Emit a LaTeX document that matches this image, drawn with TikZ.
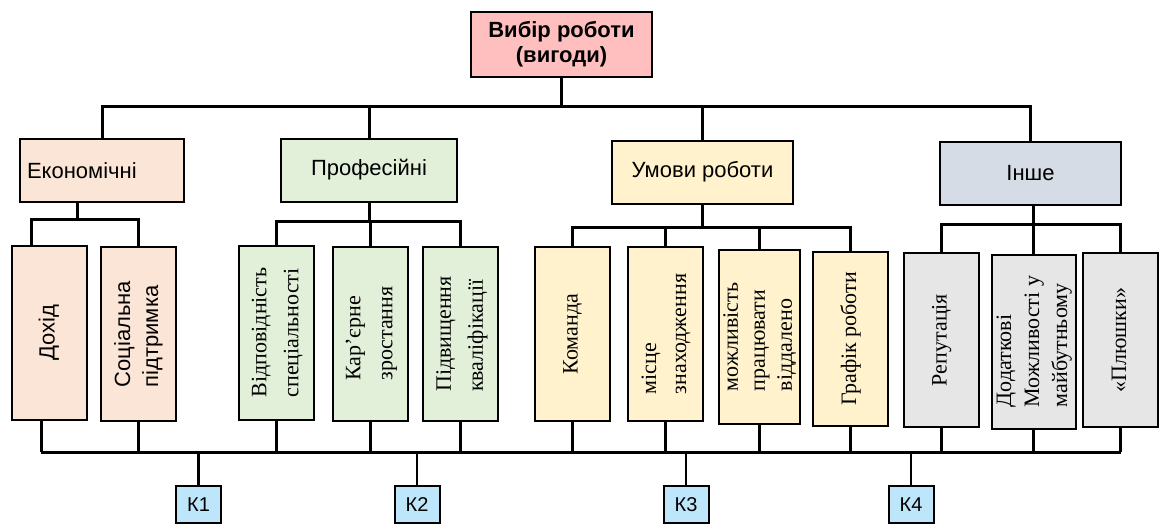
\documentclass[tikz,border=0pt]{standalone}
\usepackage{fontspec}
\setmainfont{Liberation Sans}
\newfontfamily\tnr{Liberation Serif}
\usepackage{graphicx}
\usepackage{tikz}

\definecolor{topfill}{RGB}{255,191,191}
\definecolor{econfill}{RGB}{251,229,214}
\definecolor{proffill}{RGB}{226,240,217}
\definecolor{umovfill}{RGB}{255,242,204}
\definecolor{inshfill}{RGB}{214,220,229}
\definecolor{greyfill}{RGB}{230,230,230}
\definecolor{kfill}{RGB}{189,230,251}

% vertical text, lines read from bottom to top
\newcommand{\vlab}[2][14pt]{\rotatebox{90}{\fontsize{11}{#1}\selectfont\begin{tabular}{@{}l@{}}#2\end{tabular}}}

\begin{document}
\begin{tikzpicture}[x=0.5pt, y=-0.5pt,
  box/.style={draw, line width=1pt, inner sep=2pt, align=center},
  cat/.style={box, minimum height=31.5pt, font=\fontsize{11}{13}\selectfont},
  leaf/.style={draw, line width=1pt, minimum width=37.5pt, minimum height=87pt, inner sep=0pt, font=\tnr},
  kbox/.style={draw, line width=1pt, fill=kfill, minimum width=22.5pt, minimum height=18.5pt, inner sep=1pt, font=\fontsize{10}{12}\selectfont},
  conn/.style={line width=1.5pt}]

  \useasboundingbox (0,0) rectangle (1159,524);

  \node[box, fill=topfill, minimum width=90.5pt, minimum height=32.5pt, font=\bfseries\fontsize{11}{12.5}\selectfont] (top) at (561.5,44.5) {Вибір роботи\\(вигоди)};

  \node[cat, fill=econfill, minimum width=82pt, text width=75pt, align=left] (econ) at (102,170.5) {Економічні};
  \node[cat, fill=proffill, minimum width=88pt] (prof) at (369,170) {Професійні};
  \node[cat, fill=umovfill, minimum width=90.5pt] (umovy) at (702.5,172) {Умови роботи};
  \node[cat, fill=inshfill, minimum width=90.5pt] (inshe) at (1030.5,173) {Інше};

  % leaves
  \node[leaf, fill=econfill, font=\rmfamily] (l1) at (49,333) {\vlab{Дохід}};
  \node[leaf, fill=econfill, font=\rmfamily] (l2) at (138.5,334) {\vlab[14pt]{Соціальна\\підтримка}};
  \node[leaf, fill=proffill] (l3) at (276,332.5) {\vlab[16pt]{Відповідність\\спеціальності}};
  \node[leaf, fill=proffill] (l4) at (370,333.5) {\vlab[16pt]{Кар’єрне\\зростання}};
  \node[leaf, fill=proffill] (l5) at (460.5,334) {\vlab[16pt]{Підвищення\\кваліфікації}};
  \node[leaf, fill=umovfill] (l6) at (572,334) {\vlab{Команда}};
  \node[leaf, fill=umovfill] (l7) at (665,334) {\vlab[15pt]{місце\\знаходження}};
  \node[leaf, fill=umovfill] (l8) at (759.5,337) {\vlab[13.5pt]{можливість\\працювати\\віддалено}};
  \node[leaf, fill=umovfill] (l9) at (850.5,339) {\vlab{Графік роботи}};
  \node[leaf, fill=greyfill] (l10) at (941,340) {\vlab{Репутація}};
  \node[leaf, fill=greyfill] (l11) at (1033.5,341.5) {\vlab[14pt]{Додаткові\\Можливості у\\майбутньому}};
  \node[leaf, fill=greyfill] (l12) at (1120.5,340) {\vlab{«Плюшки»}};

  \node[kbox] (k1) at (198.5,504.5) {К1};
  \node[kbox] (k2) at (417,504.5) {К2};
  \node[kbox] (k3) at (686,504.5) {К3};
  \node[kbox] (k4) at (911,504.5) {К4};

  % top level
  \coordinate (hub) at (561.5,106);
  \draw[conn] (top.south) -- (hub);
  \foreach \c in {econ,prof,umovy,inshe}
    \draw[conn] (hub) -| (\c.north);

  % second level
  \coordinate (ebus) at (77,219);
  \draw[conn] (econ.south -| ebus) -- (ebus);
  \draw[conn] (ebus) -| ([xshift=-9pt]l1.north);
  \draw[conn] (ebus) -| (l2.north);

  \coordinate (pbus) at (369,221);
  \draw[conn] (prof.south) -- (pbus);
  \foreach \n in {l3,l4,l5}
    \draw[conn] (pbus) -| (\n.north);

  \coordinate (ubus) at (702.5,227);
  \draw[conn] (umovy.south) -- (ubus);
  \foreach \n in {l6,l7,l8,l9}
    \draw[conn] (ubus) -| (\n.north);

  \coordinate (ibus) at (1033,224);
  \draw[conn] (inshe.south -| ibus) -- (ibus);
  \foreach \n in {l10,l11,l12}
    \draw[conn] (ibus) -| (\n.north);

  % bottom bus to K boxes
  \coordinate (kbus) at (0,452);
  \coordinate (l1b) at ([xshift=-4pt]l1.south);
  \draw[conn] (l1b) -- (l1b |- kbus);
  \foreach \n in {l2,l3,l4,l5,l6,l7,l8,l9,l10,l11,l12}
    \draw[conn] (\n.south) -- (\n.south |- kbus);
  \draw[conn] (l1b |- kbus) -- (l12.south |- kbus);
  \foreach \k in {k1,k2,k3,k4}
    \draw[line width=1.2pt] (\k.north) -- (\k.north |- kbus);
\end{tikzpicture}
\end{document}
